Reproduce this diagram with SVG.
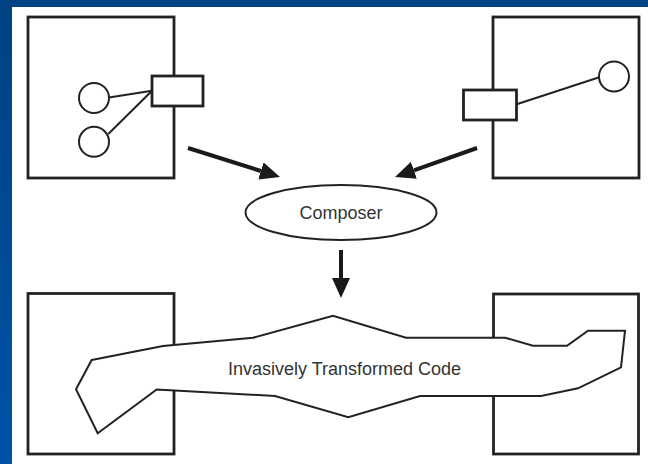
<svg xmlns="http://www.w3.org/2000/svg" width="648" height="464" viewBox="0 0 648 464">
<defs>
<linearGradient id="bg" x1="0" y1="0" x2="0" y2="1">
<stop offset="0" stop-color="#004282"/>
<stop offset="1" stop-color="#0052a8"/>
</linearGradient>
<marker id="head" viewBox="0 0 5 4.5" refX="0" refY="2.25" markerWidth="5" markerHeight="4.5" markerUnits="strokeWidth" orient="auto">
<path d="M0,0 L5,2.25 L0,4.5 z" fill="#1a1a1a"/>
</marker>
<style>
.box{fill:#fff;stroke:#222;stroke-width:2.8}
.port{fill:#fff;stroke:#222;stroke-width:2.8}
.ball{fill:#fff;stroke:#222;stroke-width:2}
.wire{stroke:#222;stroke-width:2;fill:none}
.arrow{stroke:#1a1a1a;stroke-width:4;fill:none;marker-end:url(#head)}
.code{fill:#fff;stroke:#222;stroke-width:2;stroke-linejoin:miter}
.lbl{font-family:"Liberation Sans",Arial,sans-serif;font-size:18px;fill:#333;text-anchor:middle}
</style>
</defs>
<rect x="0" y="0" width="648" height="464" fill="url(#bg)"/>
<rect x="12" y="7" width="636" height="457" fill="#fff"/>

<g id="topLeft">
<rect class="box" x="28" y="17" width="146" height="161"/>
<line class="wire" x1="109" y1="97.5" x2="152" y2="90.7"/>
<line class="wire" x1="108.3" y1="134" x2="152" y2="90.7"/>
<circle class="ball" cx="94" cy="98" r="15"/>
<circle class="ball" cx="94" cy="141.8" r="15"/>
<rect class="port" x="152" y="76" width="51" height="30"/>
</g>

<g id="topRight">
<rect class="box" x="493" y="17" width="146" height="161"/>
<line class="wire" x1="516.7" y1="104.3" x2="599.3" y2="77.3"/>
<circle class="ball" cx="614" cy="76.5" r="15"/>
<rect class="port" x="463.5" y="90" width="53" height="30"/>
</g>

<g id="composer">
<ellipse cx="341" cy="212.5" rx="95.5" ry="27.5" fill="#fff" stroke="#222" stroke-width="2"/>
<text class="lbl" x="341" y="218.5">Composer</text>
</g>

<g id="connectors">
<line class="arrow" x1="188" y1="148" x2="260.9" y2="171"/>
<line class="arrow" x1="477" y1="148" x2="413.9" y2="170.3"/>
<line class="arrow" x1="341" y1="250" x2="341" y2="278"/>
</g>

<g id="bottomLeft">
<rect class="box" x="28" y="293.5" width="146" height="160.5"/>
</g>

<g id="bottomRight">
<rect class="box" x="493.5" y="294" width="145" height="160"/>
</g>

<g id="transformedCode">
<polygon class="code" points="91.7,360 163,346 253,337.7 333,315.7 406,337.7 505,337.7 533,345.7 567,345.7 588,330.7 625,330.7 621,367.3 578,388.3 541,396 420,396 348.3,417.3 275,396 156.7,389.5 97.7,433.3 76,389.3"/>
<text class="lbl" x="344.5" y="375">Invasively Transformed Code</text>
</g>
</svg>
